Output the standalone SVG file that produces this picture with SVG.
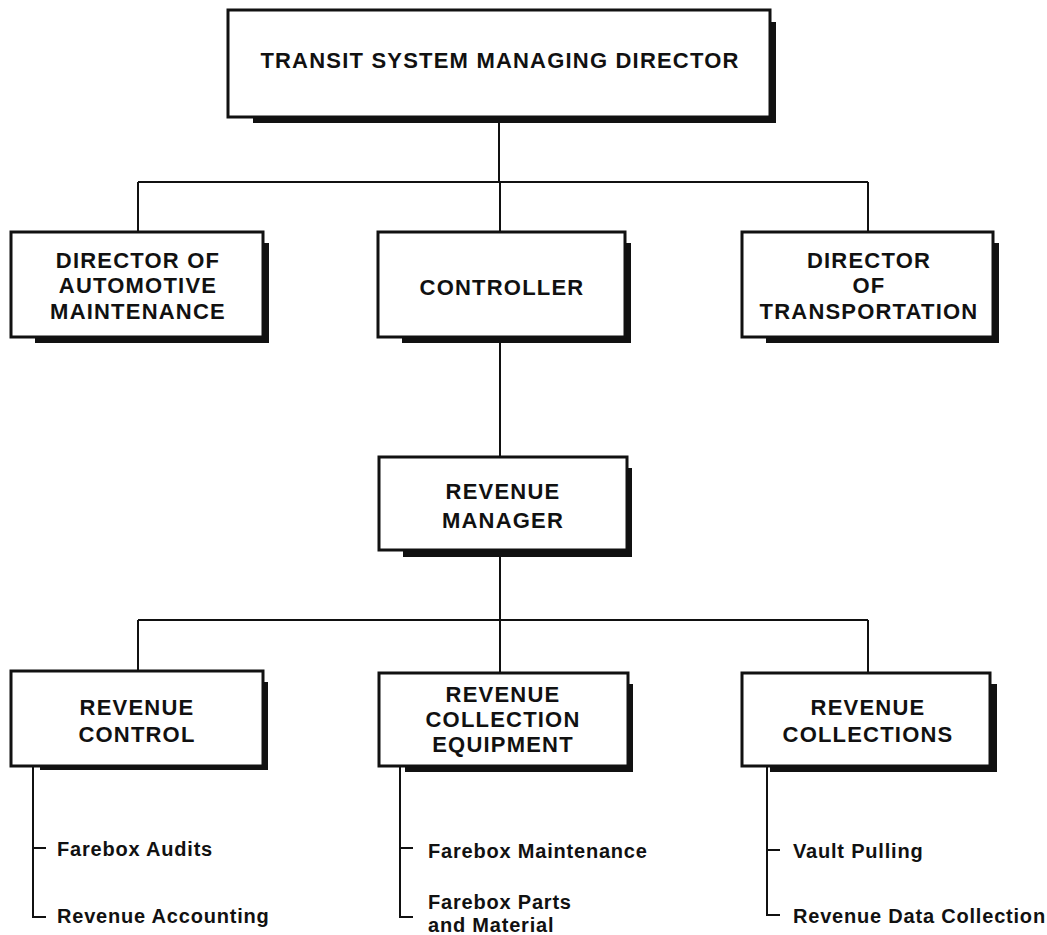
<svg xmlns="http://www.w3.org/2000/svg" width="1047" height="935" viewBox="0 0 1047 935">
<style>
.bg{fill:#fff}
.sh{fill:#111}
.bx{fill:#fff;stroke:#111;stroke-width:3}
.t{font-family:"Liberation Sans",Arial,sans-serif;font-weight:bold;font-size:22px;letter-spacing:1.2px;fill:#111;text-anchor:middle}
.s{font-family:"Liberation Sans",Arial,sans-serif;font-weight:bold;font-size:20px;letter-spacing:0.8px;fill:#111}
.c{fill:none;stroke:#111;stroke-width:2}
</style>
<rect class="bg" x="0" y="0" width="1047" height="935"/>
<g id="connectors">
<path class="c" d="M499 117V182M138 182H868M138 182V232M500 182V232M868 182V232"/>
<path class="c" d="M500 337V457M500 550V620M138 620H868M138 620V672M500 620V672M868 620V672"/>
<path class="c" d="M33 766V917H46M33 848H46"/>
<path class="c" d="M400 766V917H413M400 848H413"/>
<path class="c" d="M767 766V915H780M767 850H780"/>
</g>
<g id="director">
<rect class="sh" x="253" y="22" width="523" height="101"/>
<rect class="bx" x="228" y="10" width="542" height="107"/>
<text class="t" x="500" y="68">TRANSIT SYSTEM MANAGING DIRECTOR</text>
</g>
<g id="automotive">
<rect class="sh" x="35" y="243" width="234" height="100"/>
<rect class="bx" x="11" y="232" width="252" height="105"/>
<text class="t" x="138" y="268">DIRECTOR OF</text>
<text class="t" x="138" y="293">AUTOMOTIVE</text>
<text class="t" x="138" y="319">MAINTENANCE</text>
</g>
<g id="controller">
<rect class="sh" x="402" y="243" width="229" height="100"/>
<rect class="bx" x="378" y="232" width="247" height="105"/>
<text class="t" x="502" y="295">CONTROLLER</text>
</g>
<g id="transportation">
<rect class="sh" x="766" y="243" width="233" height="100"/>
<rect class="bx" x="742" y="232" width="251" height="105"/>
<text class="t" x="869" y="268">DIRECTOR</text>
<text class="t" x="869" y="293">OF</text>
<text class="t" x="869" y="319">TRANSPORTATION</text>
</g>
<g id="revmanager">
<rect class="sh" x="403" y="468" width="229" height="89"/>
<rect class="bx" x="379" y="457" width="248" height="93"/>
<text class="t" x="503" y="499">REVENUE</text>
<text class="t" x="503" y="528">MANAGER</text>
</g>
<g id="revcontrol">
<rect class="sh" x="40" y="682" width="228" height="88"/>
<rect class="bx" x="11" y="671" width="252" height="95"/>
<text class="t" x="137" y="715">REVENUE</text>
<text class="t" x="137" y="742">CONTROL</text>
</g>
<g id="revequip">
<rect class="sh" x="405" y="684" width="228" height="88"/>
<rect class="bx" x="379" y="673" width="249" height="93"/>
<text class="t" x="503" y="702">REVENUE</text>
<text class="t" x="503" y="727">COLLECTION</text>
<text class="t" x="503" y="752">EQUIPMENT</text>
</g>
<g id="revcollections">
<rect class="sh" x="770" y="684" width="227" height="88"/>
<rect class="bx" x="742" y="673" width="248" height="93"/>
<text class="t" x="868" y="715">REVENUE</text>
<text class="t" x="868" y="742">COLLECTIONS</text>
</g>
<g id="subitems">
<text class="s" x="57" y="856">Farebox Audits</text>
<text class="s" x="57" y="923">Revenue Accounting</text>
<text class="s" x="428" y="858">Farebox Maintenance</text>
<text class="s" x="428" y="909">Farebox Parts</text>
<text class="s" x="428" y="932">and Material</text>
<text class="s" x="793" y="858">Vault Pulling</text>
<text class="s" x="793" y="923">Revenue Data Collection</text>
</g>
</svg>
